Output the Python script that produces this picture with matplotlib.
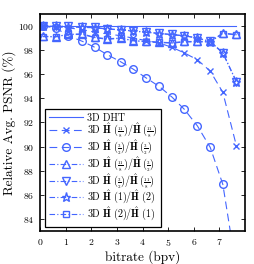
import matplotlib
matplotlib.use("Agg")
import matplotlib.pyplot as plt

plt.rcParams['font.family'] = ['cmr10', 'DejaVu Serif']
plt.rcParams['mathtext.fontset'] = 'cm'
plt.rcParams['axes.formatter.use_mathtext'] = True

bitrate = [0.1, 0.6, 1.1, 1.65, 2.13, 2.61, 3.14, 3.63, 4.12, 4.64, 5.14, 5.63, 6.14, 6.64, 7.13, 7.66]
dht = [100.0] * 16
h118_118 = [100.0, 99.95, 99.85, 99.7, 99.5, 99.35, 99.2, 99.0, 98.8, 98.6, 98.24, 97.77, 97.2, 96.26, 94.5, 90.07]
h32_32 = [100.0, 99.85, 99.2, 98.73, 98.24, 97.64, 97.04, 96.43, 95.72, 95.0, 94.12, 93.09, 91.71, 89.93, 86.87, 79.8]
h118_32 = [99.15, 99.12, 99.32, 99.35, 99.06, 98.95, 99.0, 98.8, 98.72, 98.66, 98.62, 98.72, 98.72, 98.72, 99.42, 99.3]
h32_118 = [100.0, 100.0, 99.98, 99.9, 99.88, 99.77, 99.7, 99.6, 99.5, 99.4, 99.3, 99.2, 99.02, 98.72, 97.8, 95.4]
h1_2 = [99.98, 99.98, 99.95, 99.88, 99.86, 99.75, 99.68, 99.58, 99.48, 99.38, 99.28, 99.18, 99.0, 98.7, 97.75, 95.35]
h2_1 = [99.12, 99.1, 99.3, 99.3, 99.04, 98.9, 98.98, 98.78, 98.7, 98.64, 98.58, 98.68, 98.68, 98.68, 99.38, 99.26]

F118 = r'\genfrac{}{}{0.5}{2}{11}{8}'
F32 = r'\genfrac{}{}{0.5}{2}{3}{2}'
labels = [
    '3D DHT',
    r'3D $\hat{\mathbf{H}}\;(' + F118 + r')/\hat{\mathbf{H}}\;(' + F118 + ')$',
    r'3D $\hat{\mathbf{H}}\;(' + F32 + r')/\hat{\mathbf{H}}\;(' + F32 + ')$',
    r'3D $\hat{\mathbf{H}}\;(' + F118 + r')/\hat{\mathbf{H}}\;(' + F32 + ')$',
    r'3D $\hat{\mathbf{H}}\;(' + F32 + r')/\hat{\mathbf{H}}\;(' + F118 + ')$',
    r'3D $\hat{\mathbf{H}}\;(1)/\hat{\mathbf{H}}\;(2)$',
    r'3D $\hat{\mathbf{H}}\;(2)/\hat{\mathbf{H}}\;(1)$',
]

color = '#4466ff'
fig = plt.figure(figsize=(2.54, 2.64), dpi=100)
ax = fig.add_axes([0.158, 0.125, 0.807, 0.822])

ms = 5.5
lw = 0.8
ax.plot(bitrate, dht, '-', color=color, lw=lw, label=labels[0])
ax.plot(bitrate, h118_118, 'x', ls=(0, (7, 4)), color=color, lw=lw, ms=ms - 1, label=labels[1])
ax.plot(bitrate, h32_32, 'o', ls=(0, (7, 4)), color=color, lw=lw, ms=ms, mfc='none', label=labels[2])
ax.plot(bitrate, h118_32, '^', ls=(0, (5, 2, 1, 2)), color=color, lw=lw, ms=ms, mfc='none', label=labels[3])
ax.plot(bitrate, h32_118, 'v', ls=(0, (5, 2, 1, 2)), color=color, lw=lw, ms=ms, mfc='none', label=labels[4])
ax.plot(bitrate, h1_2, '*', ls=(0, (5, 2, 1, 2)), color=color, lw=lw, ms=ms + 1, mfc='none', label=labels[5])
ax.plot(bitrate, h2_1, 's', ls=(0, (5, 2, 1, 2)), color=color, lw=lw, ms=ms - 1, mfc='none', label=labels[6])

ax.set_xlim(0, 8)
ax.set_ylim(83, 101)
ax.set_xticks(range(0, 8))
ax.set_yticks(range(84, 101, 2))
ax.tick_params(direction='in', top=True, right=True, labelsize=7, length=3, width=0.6, pad=4)
for s in ax.spines.values():
    s.set_linewidth(1.2)
ax.set_xlabel('bitrate (bpv)', fontsize=9.5, labelpad=2)
ax.set_ylabel('Relative Avg. PSNR (%)', fontsize=9.5, labelpad=2)

leg = ax.legend(loc='lower left', bbox_to_anchor=(0.025, 0.02), borderaxespad=0,
                fontsize=7.2, handlelength=3.4, handletextpad=0.4, labelspacing=-0.08,
                fancybox=False, edgecolor='black', framealpha=1, borderpad=0.4)
leg.get_frame().set_linewidth(0.9)

fig.savefig('out.png', dpi=100)
